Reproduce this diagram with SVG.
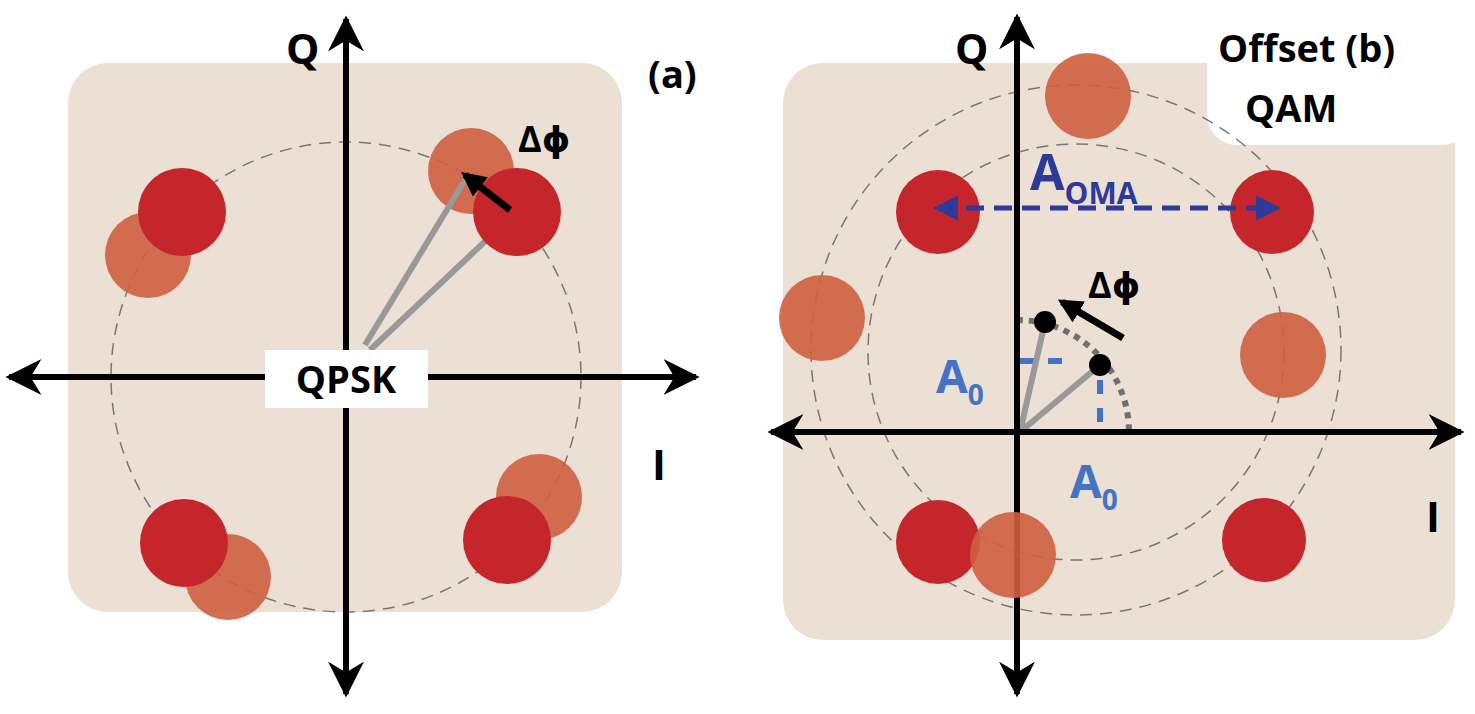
<svg xmlns="http://www.w3.org/2000/svg" width="1475" height="714" viewBox="0 0 1475 714">
<style>
.bg{fill:#ecdfd3}
.ax{stroke:#000;stroke-width:6;fill:none}
.dc{fill:none;stroke:#777;stroke-width:1.5;stroke-dasharray:12 8}
.red{fill:#c4262b}
.or{fill:#cf5f40;opacity:0.9}
.gl{stroke:#999;stroke-width:6}
.t{font-family:"Open Sans","DejaVu Sans",sans-serif;font-weight:bold;fill:#000}
.b{fill:#4472c4}
</style>
<defs>
<marker id="ah" viewBox="0 0 10 10" refX="9" refY="5" markerWidth="6" markerHeight="6" orient="auto-start-reverse"><path d="M0,0 L10,5 L0,10 L3,5 z" fill="#000"/></marker>
<marker id="bh" viewBox="0 0 10 10" refX="8" refY="5" markerWidth="5" markerHeight="5" orient="auto-start-reverse"><path d="M0,0 L10,5 L0,10 z" fill="#2e3a99"/></marker>
<marker id="sh" viewBox="0 0 10 10" refX="8" refY="5" markerWidth="3.5" markerHeight="3.5" orient="auto"><path d="M0,0 L10,5 L0,10 z" fill="#000"/></marker>
</defs>
<g id="panel-a">
<rect class="bg" x="68" y="63" width="554" height="549" rx="40"/>
<circle class="dc" cx="346" cy="377" r="235"/>
<circle class="or" cx="148" cy="255" r="43"/>
<circle class="red" cx="182" cy="212" r="44"/>
<circle class="or" cx="471" cy="171" r="43"/>
<line class="gl" x1="365" y1="345" x2="468" y2="175"/>
<line class="gl" x1="370" y1="350" x2="514" y2="214"/>
<circle class="red" cx="517" cy="212" r="44"/>
<circle class="or" cx="539" cy="497" r="43"/>
<circle class="red" cx="507" cy="540" r="44"/>
<circle class="or" cx="228" cy="577" r="43"/>
<circle class="red" cx="184" cy="543" r="44"/>
<line x1="510" y1="210" x2="465" y2="175" stroke="#000" stroke-width="7" marker-end="url(#sh)"/>
<line class="ax" x1="346" y1="694" x2="346" y2="19" marker-start="url(#ah)" marker-end="url(#ah)"/>
<line class="ax" x1="9" y1="377" x2="696" y2="377" marker-start="url(#ah)" marker-end="url(#ah)"/>
<rect x="265" y="350" width="163" height="58" fill="#fff"/>
<text class="t" x="346" y="393" font-size="38" text-anchor="middle">QPSK</text>
<text class="t" x="518" y="152" font-size="36">Δϕ</text>
<text class="t" x="286" y="64" font-size="42">Q</text>
<text class="t" x="652" y="480" font-size="42">I</text>
<text class="t" x="648" y="88" font-size="38">(a)</text>
</g>
<g id="panel-b">
<rect class="bg" x="783" y="63" width="672" height="577" rx="40"/>
<rect x="1207" y="-40" width="265" height="185" rx="30" fill="#fff"/>
<circle class="dc" cx="1076" cy="350" r="265"/>
<circle class="dc" cx="1076" cy="352" r="208"/>
<circle class="or" cx="1088" cy="96" r="43"/>
<circle class="or" cx="822" cy="318" r="43"/>
<circle class="or" cx="1283" cy="355" r="43"/>
<circle class="red" cx="938" cy="212" r="42"/>
<circle class="red" cx="1272" cy="212" r="42"/>
<circle class="red" cx="938" cy="542" r="42"/>
<circle class="red" cx="1264" cy="540" r="42"/>
<line x1="938" y1="208" x2="1276" y2="208" stroke="#2e3a99" stroke-width="5" stroke-dasharray="18 10" marker-start="url(#bh)" marker-end="url(#bh)"/>
<path d="M1017,320 A112,112 0 0 1 1129,432" fill="none" stroke="#707070" stroke-width="6" stroke-dasharray="6 6"/>
<line x1="1020" y1="361" x2="1072" y2="361" stroke="#4472c4" stroke-width="6" stroke-dasharray="14 14"/>
<line x1="1100" y1="380" x2="1100" y2="432" stroke="#4472c4" stroke-width="6" stroke-dasharray="14 14"/>
<line class="gl" x1="1020" y1="432" x2="1045" y2="322"/>
<line class="gl" x1="1020" y1="432" x2="1100" y2="365"/>
<circle cx="1045" cy="322" r="11" fill="#000"/>
<circle cx="1100" cy="365" r="11" fill="#000"/>
<line x1="1123" y1="338" x2="1062" y2="302" stroke="#000" stroke-width="7" marker-end="url(#sh)"/>
<line class="ax" x1="1017" y1="694" x2="1017" y2="17" marker-start="url(#ah)" marker-end="url(#ah)"/>
<line class="ax" x1="771" y1="432" x2="1461" y2="432" marker-start="url(#ah)" marker-end="url(#ah)"/>
<circle class="or" cx="1013" cy="555" r="43"/>
<text class="t" x="1088" y="298" font-size="36">Δϕ</text>
<text class="t b" x="936" y="393" font-size="46">A<tspan font-size="28" dy="12">0</tspan></text>
<text class="t b" x="1070" y="498" font-size="46">A<tspan font-size="28" dy="12">0</tspan></text>
<text class="t" x="1030" y="190" font-size="50" style="fill:#2e3a99">A<tspan font-size="30" dy="14">OMA</tspan></text>
<text class="t" x="955" y="64" font-size="42">Q</text>
<text class="t" x="1426" y="532" font-size="42">I</text>
<text class="t" x="1218" y="62" font-size="38">Offset (b)</text>
<text class="t" x="1245" y="122" font-size="38">QAM</text>
</g>
</svg>
